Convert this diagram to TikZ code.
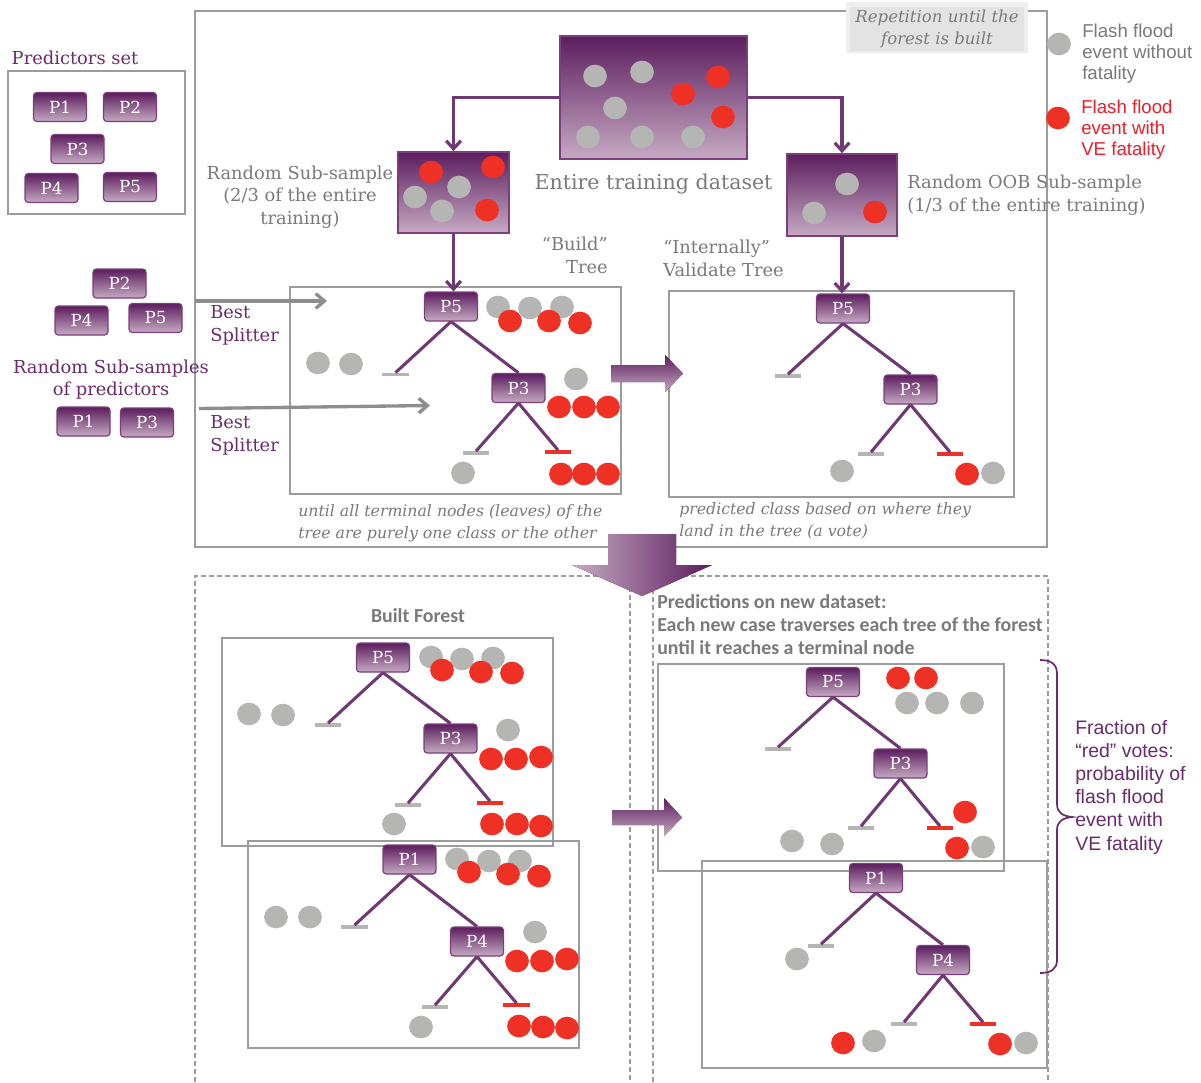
\documentclass[tikz,border=0pt]{standalone}
\usepackage{fontspec}
\usetikzlibrary{arrows.meta}
\newfontfamily\slab{DejaVu Serif}
\newfontfamily\calib{Carlito}
\newfontfamily\arial{Liberation Sans}
\definecolor{tgray}{HTML}{7A7A7A}
\definecolor{tpurp}{HTML}{6A2C6C}
\definecolor{pdark}{HTML}{5C1D5E}
\definecolor{plight}{HTML}{C6AAC3}
\definecolor{pborder}{HTML}{7A3F7C}
\definecolor{dgray}{HTML}{B5B5B3}
\definecolor{dred}{HTML}{EE3124}
\definecolor{lred}{HTML}{E8202A}
\definecolor{boxgray}{HTML}{9C9C9C}
\definecolor{linep}{HTML}{6F3A73}
\definecolor{arrgray}{HTML}{8E8E8E}
\definecolor{repgray}{HTML}{E3E3E3}
\newcommand\gD[1]{\fill[dgray] (#1) ellipse [x radius=8.9pt, y radius=8.5pt];}
\newcommand\rD[1]{\fill[dred] (#1) ellipse [x radius=8.9pt, y radius=8.5pt];}
\tikzset{
 pn/.style={draw=pborder, line width=0.9pt, rounded corners=2.5pt, top color=pdark, bottom color=plight,
   minimum width=39.75pt, minimum height=21.75pt, inner sep=0pt, text=white, font=\slab\fontsize{12.5}{12.5}\selectfont},
 databox/.style={draw=pborder, line width=1.3pt, top color=pdark, bottom color=plight, inner sep=0pt},
 frame/.style={draw=boxgray, line width=1.5pt},
 dashline/.style={draw=boxgray, line width=1pt, dash pattern=on 3.5pt off 2.5pt},
 tl/.style={draw=linep, line width=2.3pt},
 lfg/.style={fill=dgray, minimum width=20pt, minimum height=2.4pt, inner sep=0pt},
 lfr/.style={fill=dred, minimum width=20pt, minimum height=2.4pt, inner sep=0pt},
 conn/.style={draw=linep, line width=2.4pt, -{Straight Barb[length=6pt,width=11pt]}},
 garrow/.style={draw=arrgray, line width=2.5pt, -{Straight Barb[length=6.5pt,width=11pt]}},
 gtxt/.style={text=tgray, font=\slab\fontsize{13.4}{17}\selectfont, inner sep=0pt},
 ptxt/.style={text=tpurp, font=\slab\fontsize{13.4}{17}\selectfont, inner sep=0pt},
 itxt/.style={text=tgray, font=\slab\itshape\fontsize{11.8}{16.2}\selectfont, inner sep=0pt, align=left},
 blockarr/.style={top color=pdark, bottom color=plight, draw=none},
}
\begin{document}
\begin{tikzpicture}[x=0.75pt,y=-0.75pt]
\fill[white] (0,0) rectangle (1201,1082);
\useasboundingbox (0,0) rectangle (1201,1082);

% ---------- main frame and repetition box
\draw[frame] (195,11) rectangle (1047,547);
\fill[repgray!60] (846,2) rectangle (1028,53);
\node[fill=repgray, minimum width=130pt, minimum height=33pt, text=tgray, align=center,
  font=\slab\itshape\fontsize{12.4}{16.5}\selectfont, inner sep=0pt] (rep) at (937,28.5) {Repetition until the\\forest is built};

% ---------- legend
\gD{1059,44}
\node[anchor=west, text=tgray, font=\arial\fontsize{14}{15.8}\selectfont, align=left, inner sep=0pt] (leg1) at (1082,54) {Flash flood\\event without\\fatality};
\rD{1058,118}
\node[anchor=west, text=lred, font=\arial\fontsize{14}{15.8}\selectfont, align=left, inner sep=0pt] (leg2) at (1081,130) {Flash flood\\event with\\VE fatality};

% ---------- predictors set
\node[ptxt] (pstitle) at (75,57.5) {Predictors set};
\draw[frame] (8,71) rectangle (185,214);
\node[pn] (sp1) at (60,107) {P1};
\node[pn] (sp2) at (130,107) {P2};
\node[pn] (sp3) at (77.5,149) {P3};
\node[pn] (sp4) at (51.5,188) {P4};
\node[pn] (sp5) at (130,187) {P5};

% ---------- random subsamples of predictors
\node[pn] (rp2) at (119.5,283.5) {P2};
\node[pn] (rp4) at (81.5,320.5) {P4};
\node[pn] (rp5) at (155.5,318) {P5};
\node[ptxt, align=center] (rstxt) at (111,379.5) {Random Sub-samples\\of predictors};
\node[pn] (rp1) at (83.5,421.5) {P1};
\node[pn] (rp3) at (147,422.5) {P3};

% ---------- data boxes
\node[databox, minimum width=140.25pt, minimum height=92.25pt] (ds) at (653.5,97.5) {};
\node[databox, minimum width=83.25pt, minimum height=60.75pt] (ls) at (453.5,192.5) {};
\node[databox, minimum width=82.5pt, minimum height=61.5pt] (oob) at (842,195) {};
\gD{595,76}\gD{642,72}\gD{615,108}\gD{588,137}\gD{642,137}\gD{693,137}
\rD{718,77}\rD{683,94}\rD{723,117}
\gD{415,197}\gD{459,187}\gD{442,211}
\rD{431,172}\rD{493,167}\rD{487,210}
\gD{847,184}\gD{814,213}\rD{875,212}

\node[gtxt, font=\slab\fontsize{15.4}{17}\selectfont] (dstxt) at (653.5,184) {Entire training dataset};
\node[gtxt, align=center] (lstxt) at (300,197) {Random Sub-sample\\(2/3 of the entire\\training)};
\node[gtxt, align=left, anchor=west] (oobtxt) at (907,195.5) {Random OOB Sub-sample\\(1/3 of the entire training)};
\node[gtxt, align=right, anchor=east] (buildtxt) at (608,255) {“Build”\\Tree};
\node[gtxt, align=left, anchor=west] (valtxt) at (663,258) {“Internally”\\Validate Tree};
\node[ptxt, align=left, anchor=west] (bs1txt) at (210,325.5) {Best\\Splitter};
\node[ptxt, align=left, anchor=west] (bs2txt) at (210,435.5) {Best\\Splitter};

% ---------- tree frames
\draw[frame] (290,287) rectangle (621,494);
\draw[frame] (669,291) rectangle (1014,497);
\draw[frame] (222,638) rectangle (553,846);
\draw[frame] (248,841) rectangle (579,1048);
\draw[frame] (658,664) rectangle (1004,871);
\draw[frame] (702,861) rectangle (1047,1068);

% ---------- connectors from dataset
\draw[conn] (ds.west) -| (ls.north);
\draw[conn] (ds.east) -| (oob.north);

% ---------- tree 1 (build)
\node[pn] (t1a) at (451,306.5) {P5};
\node[pn] (t1b) at (518.5,388) {P3};
\node[lfg] (t1l1) at (395.5,374.5) {};
\node[lfg] (t1l2) at (476,453) {};
\node[lfr] (t1l3) at (558,452) {};
\draw[conn] (ls.south) -- (ls.south |- t1a.north);
\draw[tl] (t1a.south) -- (t1l1.north);
\draw[tl] (t1a.south) -- (t1b.north);
\draw[tl] (t1b.south) -- (t1l2.north);
\draw[tl] (t1b.south) -- (t1l3.north);
\gD{498,307}\gD{530,308}\gD{562,307}
\rD{510,321}\rD{549,321}\rD{580,323}
\gD{318,363}\gD{351,364}
\gD{576,379}\rD{559,407}\rD{584,407}\rD{608,407}
\gD{463,473}\rD{561,474}\rD{584,474}\rD{608,474}
\coordinate (bs1s) at (195,301);
\coordinate (bs1e) at (327,301);
\coordinate (bs2s) at (199,408.5);
\coordinate (bs2e) at (430,405.5);
\draw[garrow] (bs1s) -- (bs1e);
\draw[garrow] (bs2s) -- (bs2e);
\node[itxt, anchor=west] (cap1) at (298,523) {until all terminal nodes (leaves) of the\\tree are purely one class or the other};

% ---------- tree 2 (validate)
\node[pn] (t2a) at (843,308.5) {P5};
\node[pn] (t2b) at (910.5,389.5) {P3};
\node[lfg] (t2l1) at (788,376) {};
\node[lfg] (t2l2) at (871,454) {};
\node[lfr] (t2l3) at (950,454) {};
\draw[conn] (oob.south) -- (oob.south |- t2a.north);
\draw[tl] (t2a.south) -- (t2l1.north);
\draw[tl] (t2a.south) -- (t2b.north);
\draw[tl] (t2b.south) -- (t2l2.north);
\draw[tl] (t2b.south) -- (t2l3.north);
\gD{842,471}\rD{967,474}\gD{993,473}
\node[itxt, anchor=west] (cap2) at (679,521) {predicted class based on where they\\land in the tree (a vote)};

% ---------- block arrows (top)
\fill[blockarr] (611,365) -- (665,365) -- (665,355) -- (683,373.5) -- (665,392) -- (665,382) -- (611,382) -- cycle;

% ---------- dashed regions
\draw[dashline] (195,1082) -- (195,576) -- (630,576) -- (630,1082);
\draw[dashline] (653,1082) -- (653,576) -- (1048,576) -- (1048,1082);
\fill[left color=plight, right color=pdark] (608,534) -- (676,534) -- (676,565) -- (712,565) -- (642,596) -- (572,565) -- (608,565) -- cycle;

\node[text=tgray, font=\calib\bfseries\fontsize{14.9}{14.9}\selectfont] (bftxt) at (418,616) {Built Forest};
\node[text=tgray, font=\calib\bfseries\fontsize{14.9}{17.3}\selectfont, anchor=west, align=left, inner sep=0pt] (predtxt) at (657,625) {Predictions on new dataset:\\Each new case traverses each tree of the forest\\until it reaches a terminal node};

% ---------- tree A
\node[pn] (taa) at (383,657.5) {P5};
\node[pn] (tab) at (450.5,738.5) {P3};
\node[lfg] (tal1) at (328,725) {};
\node[lfg] (tal2) at (408,805) {};
\node[lfr] (tal3) at (490,803) {};
\draw[tl] (taa.south) -- (tal1.north);
\draw[tl] (taa.south) -- (tab.north);
\draw[tl] (tab.south) -- (tal2.north);
\draw[tl] (tab.south) -- (tal3.north);
\gD{431,657}\gD{462,659}\gD{493,658}
\rD{442,670}\rD{481,672}\rD{512,673}
\gD{249,714}\gD{283,715}
\gD{508,730}\rD{491,759}\rD{516,759}\rD{541,757}
\gD{394,824}\rD{492,824}\rD{517,824}\rD{541,826}

% ---------- tree B
\node[pn] (tba) at (409.5,859.5) {P1};
\node[pn] (tbb) at (477,941.5) {P4};
\node[lfg] (tbl1) at (354.5,927) {};
\node[lfg] (tbl2) at (435,1007) {};
\node[lfr] (tbl3) at (516.5,1005) {};
\draw[tl] (tba.south) -- (tbl1.north);
\draw[tl] (tba.south) -- (tbb.north);
\draw[tl] (tbb.south) -- (tbl2.north);
\draw[tl] (tbb.south) -- (tbl3.north);
\gD{457,859}\gD{489,861}\gD{520,861}
\rD{469,872}\rD{508,874}\rD{539,876}
\gD{276,917}\gD{310,917}
\gD{535,932}\rD{517,961}\rD{542,961}\rD{567,959}
\gD{421,1027}\rD{519,1026}\rD{543,1027}\rD{567,1028}

% ---------- bottom arrow
\fill[blockarr] (612,810) -- (664,810) -- (664,798) -- (682,817.5) -- (664,836) -- (664,825) -- (612,825) -- cycle;

% ---------- tree C
\node[pn] (tca) at (833,682) {P5};
\node[pn] (tcb) at (900.5,763.5) {P3};
\node[lfg] (tcl1) at (778,749) {};
\node[lfg] (tcl2) at (861,828) {};
\node[lfr] (tcl3) at (940,828) {};
\draw[tl] (tca.south) -- (tcl1.north);
\draw[tl] (tca.south) -- (tcb.north);
\draw[tl] (tcb.south) -- (tcl2.north);
\draw[tl] (tcb.south) -- (tcl3.north);
\rD{898,678}\rD{926,678}
\gD{907,703}\gD{937,703}\gD{972,703}
\rD{965,812}
\gD{792,841}\gD{832,844}
\rD{957,848}\gD{983,847}

% ---------- tree D
\node[pn] (tda) at (876,878) {P1};
\node[pn] (tdb) at (943,960) {P4};
\node[lfg] (tdl1) at (821,946) {};
\node[lfg] (tdl2) at (904,1024) {};
\node[lfr] (tdl3) at (983,1024) {};
\draw[tl] (tda.south) -- (tdl1.north);
\draw[tl] (tda.south) -- (tdb.north);
\draw[tl] (tdb.south) -- (tdl2.north);
\draw[tl] (tdb.south) -- (tdl3.north);
\gD{797,959}
\rD{843,1043}\gD{874,1041}
\rD{1000,1044}\gD{1026,1043}

% ---------- brace and fraction text
\draw[draw=tpurp, line width=1.3pt] (1040,660) .. controls (1051,660) and (1057,664) .. (1057,674)
  -- (1057,804) .. controls (1057,812) and (1062,816) .. (1072,817)
  .. controls (1062,818) and (1057,822) .. (1057,830)
  -- (1057,960) .. controls (1057,969) and (1051,973) .. (1040,973);
\node[text=tpurp, font=\arial\fontsize{14.6}{17.4}\selectfont, anchor=west, align=left, inner sep=0pt] (fractxt) at (1075,787) {Fraction of\\“red” votes:\\probability of\\flash flood\\event with\\VE fatality};
\end{tikzpicture}
\end{document}
